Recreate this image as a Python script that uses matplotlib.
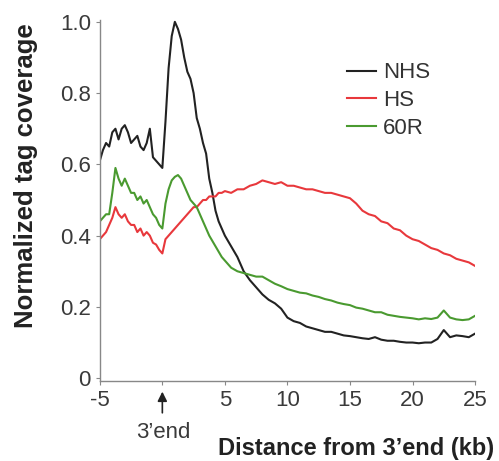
import numpy as np
import matplotlib
matplotlib.use('Agg')
import matplotlib.pyplot as plt

plt.rcParams['font.family'] = ['Liberation Sans', 'DejaVu Sans']

# distance from 3'end (kb): 0.25 kb steps up to 5 kb, then 0.5 kb steps
dist_near = np.arange(-5, 5.001, 0.25)
dist_far = np.arange(5.5, 25.001, 0.5)
dist_kb = np.concatenate([dist_near, dist_far])

nhs = [0.61, 0.64, 0.66, 0.65, 0.69, 0.70, 0.67, 0.70, 0.71, 0.69,
       0.66, 0.67, 0.68, 0.65, 0.64, 0.66, 0.70, 0.62, 0.61, 0.60,
       0.59, 0.72, 0.87, 0.96, 1.00, 0.98, 0.95, 0.90, 0.86, 0.84,
       0.80, 0.73, 0.70, 0.66, 0.63, 0.56, 0.52, 0.47, 0.44, 0.42,
       0.40,
       0.37, 0.34, 0.30, 0.275, 0.255, 0.235, 0.22, 0.21, 0.195, 0.17,
       0.16, 0.155, 0.145, 0.14, 0.135, 0.13, 0.13, 0.125, 0.12, 0.118,
       0.115, 0.112, 0.11, 0.115, 0.108, 0.105, 0.105, 0.102, 0.10, 0.10,
       0.098, 0.10, 0.10, 0.11, 0.135, 0.115, 0.12, 0.118, 0.115, 0.125]

hs = [0.39, 0.40, 0.41, 0.43, 0.45, 0.48, 0.46, 0.45, 0.46, 0.44,
      0.43, 0.43, 0.41, 0.42, 0.40, 0.41, 0.40, 0.38, 0.375, 0.36,
      0.35, 0.39, 0.40, 0.41, 0.42, 0.43, 0.44, 0.45, 0.46, 0.47,
      0.48, 0.48, 0.49, 0.50, 0.50, 0.51, 0.51, 0.51, 0.52, 0.52,
      0.525,
      0.52, 0.53, 0.53, 0.54, 0.545, 0.555, 0.55, 0.545, 0.55, 0.54,
      0.54, 0.535, 0.53, 0.53, 0.525, 0.52, 0.52, 0.515, 0.51, 0.505,
      0.49, 0.47, 0.46, 0.455, 0.44, 0.435, 0.42, 0.415, 0.40, 0.39,
      0.385, 0.375, 0.365, 0.36, 0.35, 0.345, 0.335, 0.33, 0.325, 0.315]

r60 = [0.44, 0.45, 0.46, 0.46, 0.52, 0.59, 0.56, 0.54, 0.56, 0.54,
       0.52, 0.52, 0.50, 0.51, 0.49, 0.50, 0.48, 0.46, 0.45, 0.43,
       0.42, 0.49, 0.53, 0.555, 0.565, 0.57, 0.56, 0.54, 0.52, 0.50,
       0.49, 0.48, 0.46, 0.44, 0.42, 0.40, 0.385, 0.37, 0.355, 0.34,
       0.33,
       0.31, 0.30, 0.295, 0.29, 0.285, 0.285, 0.275, 0.265, 0.258, 0.25,
       0.245, 0.24, 0.238, 0.232, 0.228, 0.222, 0.218, 0.212, 0.208, 0.205,
       0.198, 0.195, 0.19, 0.185, 0.185, 0.178, 0.175, 0.172, 0.17, 0.168,
       0.165, 0.168, 0.166, 0.17, 0.19, 0.17, 0.165, 0.163, 0.165, 0.175]

xticks = [-5, 0, 5, 10, 15, 20, 25]
xticklabels = ['-5', '', '5', '10', '15', '20', '25']
yticks = [0, 0.2, 0.4, 0.6, 0.8, 1.0]
yticklabels = ['0', '0.2', '0.4', '0.6', '0.8', '1.0']

fig = plt.figure(figsize=(4.99, 4.61), dpi=100)
ax = fig.add_axes([0.200, 0.1735, 0.752, 0.783])

ax.plot(dist_kb, nhs, color='#222222', lw=1.5, label='NHS')
ax.plot(dist_kb, hs, color='#e8383c', lw=1.5, label='HS')
ax.plot(dist_kb, r60, color='#4a9a30', lw=1.5, label='60R')

ax.set_xlim(-5, 25)
ax.set_ylim(-0.008, 1.005)
ax.set_xticks(xticks)
ax.set_xticklabels(xticklabels)
ax.set_yticks(yticks)
ax.set_yticklabels(yticklabels)

for s in ['top', 'right']:
    ax.spines[s].set_visible(False)
for s in ['left', 'bottom']:
    ax.spines[s].set_color('#888888')
    ax.spines[s].set_linewidth(1.0)
ax.tick_params(colors='#888888', labelcolor='#3a3a3a', labelsize=16, length=3)

ax.set_ylabel('Normalized tag coverage', fontsize=18.5, fontweight='bold',
              color='#222222')
ax.yaxis.set_label_coords(-0.165, 0.57)
ax.set_xlabel("Distance from 3\u2019end (kb)", fontsize=17, fontweight='bold',
              color='#222222')
ax.xaxis.set_label_coords(1.05, -0.155)
ax.xaxis.label.set_horizontalalignment('right')

# 3'end marker
ax.annotate('', xy=(0, -0.03), xytext=(0, -0.105), xycoords='data',
            annotation_clip=False,
            arrowprops=dict(arrowstyle='-|>', color='#222222', lw=1.2,
                            mutation_scale=14))
ax.text(0.1, -0.152, "3\u2019end", fontsize=16, color='#3a3a3a',
        ha='center', va='center', clip_on=False)

leg = ax.legend(loc='upper left', bbox_to_anchor=(0.66, 0.883), frameon=False,
                fontsize=16, handlelength=1.3, handletextpad=0.3,
                labelspacing=0.3, borderaxespad=0, borderpad=0)
for t in leg.get_texts():
    t.set_color('#333333')

fig.savefig('out.png', dpi=100)
